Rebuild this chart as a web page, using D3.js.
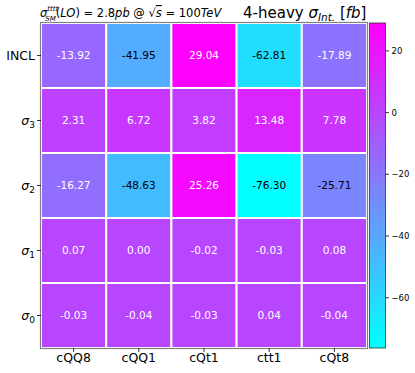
<!DOCTYPE html>
<html><head><meta charset="utf-8">
<script src="https://cdn.jsdelivr.net/npm/d3@7"></script>
<style>body{margin:0;background:#fff}svg{display:block}text{font-family:"DejaVu Sans",sans-serif}</style>
</head><body><svg id="c" width="415" height="373"></svg>
<script>
const columns = ["cQQ8","cQQ1","cQt1","ctt1","cQt8"];
const rows = ["INCL","σ3","σ2","σ1","σ0"];
const rowLabels = [["INCL",""],["σ","3"],["σ","2"],["σ","1"],["σ","0"]];
const rowINCL = [-13.92,-41.95,29.04,-62.81,-17.89];
const rowS3 = [2.31,6.72,3.82,13.48,7.78];
const rowS2 = [-16.27,-48.63,25.26,-76.30,-25.71];
const rowS1 = [0.07,0.00,-0.02,-0.03,0.08];
const rowS0 = [-0.03,-0.04,-0.03,0.04,-0.04];
const values = [rowINCL,rowS3,rowS2,rowS1,rowS0];
const cbTicks = [20,0,-20,-40,-60];

const svg = d3.select("#c");
const L=41,R=367,T=23,B=348;
const x = d3.scaleBand().domain(columns).range([L,R]);
const y = d3.scaleBand().domain(rows).range([T,B]);
const flat = values.flat();
const vmin = d3.min(flat), vmax = d3.max(flat);
const cool = t => d3.rgb(255*t, 255*(1-t), 255).toString();
const norm = d3.scaleLinear().domain([vmin,vmax]).range([0,1]);

const cells = [];
rows.forEach((r,i)=>columns.forEach((c,j)=>cells.push({r,c,v:values[i][j]})));
svg.selectAll("rect.cell").data(cells).join("rect")
  .attr("x",d=>x(d.c)).attr("y",d=>y(d.r))
  .attr("width",x.bandwidth()).attr("height",y.bandwidth())
  .attr("fill",d=>cool(norm(d.v))).attr("stroke","#fff").attr("stroke-width",2);
svg.selectAll("text.val").data(cells).join("text")
  .attr("x",d=>x(d.c)+x.bandwidth()/2).attr("y",d=>y(d.r)+y.bandwidth()/2)
  .attr("dy","0.36em").attr("text-anchor","middle").attr("font-size",10.5)
  .attr("fill",d=>norm(d.v)<0.5?"#000":"#fff")
  .text(d=>d.v.toFixed(2));
svg.append("rect").attr("x",L-0.5).attr("y",T-0.5).attr("width",R-L+1).attr("height",B-T+1)
  .attr("fill","none").attr("stroke","#808080").attr("stroke-width",1.2);

// y axis
rows.forEach((r,i)=>{
  const cy = y(r)+y.bandwidth()/2;
  svg.append("line").attr("x1",L-4).attr("x2",L).attr("y1",cy).attr("y2",cy).attr("stroke","#000").attr("stroke-width",0.8);
  const t = svg.append("text").attr("x",L-6).attr("y",cy).attr("dy","0.36em").attr("text-anchor","end").attr("font-size",12.5);
  if(rowLabels[i][1]===""){t.text(rowLabels[i][0]);}
  else{
    t.append("tspan").attr("font-style","italic").text(rowLabels[i][0]);
    t.append("tspan").attr("font-size",9).attr("dy",3).text(rowLabels[i][1]);
  }
});
// x axis
columns.forEach(c=>{
  const cx = x(c)+x.bandwidth()/2;
  svg.append("line").attr("x1",cx).attr("x2",cx).attr("y1",B).attr("y2",B+4).attr("stroke","#000").attr("stroke-width",0.8);
  svg.append("text").attr("x",cx).attr("y",B+14).attr("text-anchor","middle").attr("font-size",12.5).text(c);
});

// colorbar
const cbx=369.5, cbw=16;
const cbScale = d3.scaleLinear().domain([vmin,vmax]).range([B,T]);
const defs = svg.append("defs");
const grad = defs.append("linearGradient").attr("id","g").attr("x1",0).attr("y1",1).attr("x2",0).attr("y2",0);
d3.range(0,1.001,0.1).forEach(t=>grad.append("stop").attr("offset",t).attr("stop-color",cool(t)));
svg.append("rect").attr("x",cbx).attr("y",T).attr("width",cbw).attr("height",B-T).attr("fill","url(#g)")
  .attr("stroke","#333").attr("stroke-width",0.8);
cbTicks.forEach(v=>{
  const ty = cbScale(v);
  svg.append("line").attr("x1",cbx+cbw).attr("x2",cbx+cbw+3.5).attr("y1",ty).attr("y2",ty).attr("stroke","#000").attr("stroke-width",0.8);
  svg.append("text").attr("x",cbx+cbw+6).attr("y",ty).attr("dy","0.36em").attr("font-size",8.5)
    .text(v<0?"\u2212"+(-v):String(v));
});

// title
const t1 = svg.append("text").attr("x",40).attr("y",17).attr("font-size",11.5);
t1.append("tspan").attr("font-style","italic").text("σ");
t1.append("tspan").attr("font-style","italic").attr("font-size",7).attr("dy",-6).text("tttt");
t1.append("tspan").attr("font-style","italic").attr("font-size",7).attr("dx",-13).attr("dy",9.5).text("SM");
t1.append("tspan").attr("dy",-3.5).text("(");
t1.append("tspan").attr("font-style","italic").text("LO");
t1.append("tspan").text(") = 2.8");
t1.append("tspan").attr("font-style","italic").text("pb");
t1.append("tspan").text(" @ √");
t1.append("tspan").attr("font-style","italic").attr("text-decoration","overline").text("s");
t1.append("tspan").text(" = 100");
t1.append("tspan").attr("font-style","italic").text("TeV");
const t2 = svg.append("text").attr("x",243).attr("y",18).attr("font-size",15);
t2.append("tspan").text("4-heavy ");
t2.append("tspan").attr("font-style","italic").text("σ");
t2.append("tspan").attr("font-style","italic").attr("font-size",10.5).attr("dy",3).text("Int.");
t2.append("tspan").attr("dy",-3).text(" [");
t2.append("tspan").attr("font-style","italic").text("fb");
t2.append("tspan").text("]");
</script></body></html>
